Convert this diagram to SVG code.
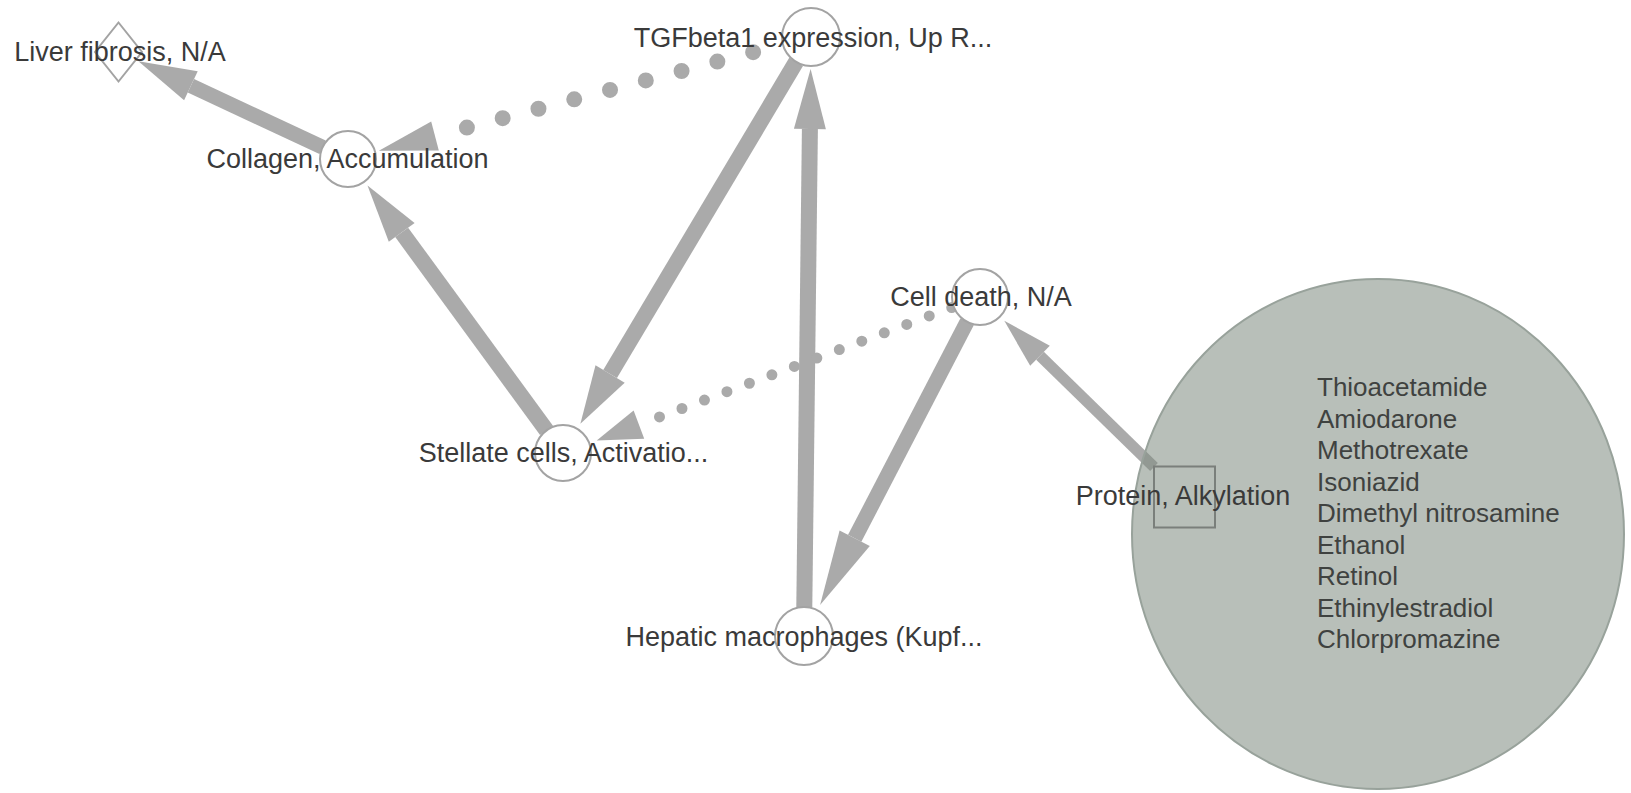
<svg xmlns="http://www.w3.org/2000/svg" width="1631" height="793" viewBox="0 0 1631 793">
<style>
.e{stroke:#aaaaaa;fill:none}
.s16{stroke-width:16}
.s15{stroke-width:15}
.s11{stroke-width:11}
.dot{stroke-linecap:round}
.h{fill:#aaaaaa}
.n{fill:#ffffff;stroke:#a3a3a3;stroke-width:2}
.lbl{font-family:"Liberation Sans",Arial,sans-serif;font-size:27px;fill:#3a3a3a;text-anchor:middle}
.drug{font-family:"Liberation Sans",Arial,sans-serif;font-size:26px;fill:#3f4240}
</style>
<rect width="1631" height="793" fill="#ffffff"/>
<g id="connectors">
  <!-- Collagen -> Liver fibrosis -->
  <line class="e s15" x1="322.6" y1="147.2" x2="190.9" y2="85.8"/>
  <polygon class="h" points="138.4,61.3 197.7,71.3 184.1,100.3"/>
  <!-- TGFbeta1 -> Collagen (dotted) -->
  <line class="e s16 dot" x1="466.9" y1="127.6" x2="754.1" y2="51.9" stroke-dasharray="0 37"/>
  <polygon class="h" points="378.9,150.8 431.2,121.5 438.8,150.5"/>
  <!-- Stellate -> Collagen -->
  <line class="e s16" x1="546.5" y1="430.4" x2="401.7" y2="232.4"/>
  <polygon class="h" points="367.5,185.6 414.6,223.0 388.8,241.8"/>
  <!-- TGFbeta1 -> Stellate -->
  <line class="e s16" x1="796.1" y1="61.9" x2="610.1" y2="374.0"/>
  <polygon class="h" points="580.4,423.8 595.5,365.3 624.7,382.7"/>
  <!-- Hepatic -> TGFbeta1 -->
  <line class="e s16" x1="804.3" y1="607" x2="809.9" y2="129"/>
  <polygon class="h" points="810.6,69 825.9,129.2 793.9,128.8"/>
  <!-- Cell death -> Stellate (dotted) -->
  <line class="e s11 dot" x1="659.5" y1="416.9" x2="952.7" y2="307.2" stroke-dasharray="0 24"/>
  <polygon class="h" points="596.7,440.4 633.6,410.5 644.2,438.7"/>
  <!-- Cell death -> Hepatic -->
  <line class="e s15" x1="967.1" y1="321.8" x2="854.7" y2="538.3"/>
  <polygon class="h" points="820.1,604.9 839.6,530.5 869.8,546.1"/>
  <!-- Protein -> Cell death -->
  <line class="e s11" x1="1154" y1="467" x2="1040" y2="355.8"/>
  <polygon class="h" points="1004.3,320.8 1049.8,345.8 1030.2,365.8"/>
</g>
<g id="drug-group">
  <ellipse cx="1378" cy="534" rx="246" ry="255" fill="#7d8b80" fill-opacity="0.55" stroke="#98a29b" stroke-width="2"/>
  <text class="drug" x="1317" y="396">Thioacetamide</text>
  <text class="drug" x="1317" y="427.5">Amiodarone</text>
  <text class="drug" x="1317" y="459">Methotrexate</text>
  <text class="drug" x="1317" y="490.5">Isoniazid</text>
  <text class="drug" x="1317" y="522">Dimethyl nitrosamine</text>
  <text class="drug" x="1317" y="553.5">Ethanol</text>
  <text class="drug" x="1317" y="585">Retinol</text>
  <text class="drug" x="1317" y="616.5">Ethinylestradiol</text>
  <text class="drug" x="1317" y="648">Chlorpromazine</text>
</g>
<g id="node-liver-fibrosis">
  <polygon class="n" points="118.5,22.5 142,52 118.5,81.5 95,52"/>
  <text class="lbl" x="120" y="61">Liver fibrosis, N/A</text>
</g>
<g id="node-collagen">
  <circle class="n" cx="348" cy="159" r="28"/>
  <text class="lbl" x="347.5" y="168">Collagen, Accumulation</text>
</g>
<g id="node-tgfbeta1">
  <circle class="n" cx="811" cy="37" r="29"/>
  <text class="lbl" x="813" y="47">TGFbeta1 expression, Up R...</text>
</g>
<g id="node-stellate">
  <circle class="n" cx="563" cy="453" r="28"/>
  <text class="lbl" x="563.5" y="462">Stellate cells, Activatio...</text>
</g>
<g id="node-cell-death">
  <circle class="n" cx="980" cy="297" r="28"/>
  <text class="lbl" x="981" y="306">Cell death, N/A</text>
</g>
<g id="node-hepatic">
  <circle class="n" cx="804" cy="636" r="29"/>
  <text class="lbl" x="804" y="646">Hepatic macrophages (Kupf...</text>
</g>
<g id="node-protein">
  <rect x="1154" y="466.5" width="61" height="61" fill="none" stroke="#7a7f7b" stroke-width="2"/>
  <text class="lbl" x="1183" y="505">Protein, Alkylation</text>
</g>
</svg>
